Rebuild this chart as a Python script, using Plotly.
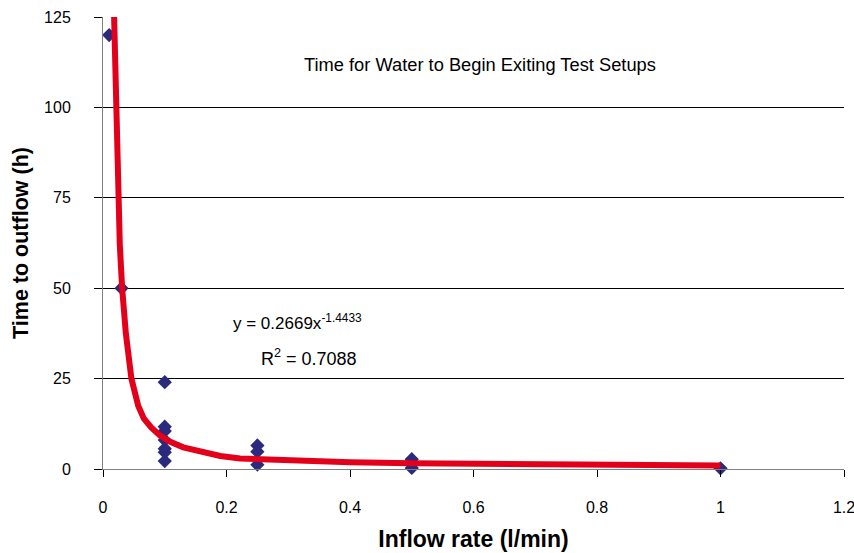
import plotly.graph_objects as go

# Measured data points (inflow rate l/min, time to outflow h)
inflow = [0.01, 0.03, 0.1, 0.1, 0.1, 0.1, 0.1, 0.1, 0.1,
          0.25, 0.25, 0.25, 0.5, 0.5, 1.0]
outflow_time = [120, 50, 24, 11.7, 10.5, 8.0, 5.6, 4.6, 2.2,
                6.5, 4.8, 1.2, 2.7, 0.3, 0.2]

# Power trendline as drawn in the picture
trend_x = [0.018, 0.021, 0.0235, 0.0272, 0.031, 0.037, 0.046, 0.057, 0.066,
           0.078, 0.092, 0.108, 0.13, 0.157, 0.19, 0.222, 0.3, 0.4, 0.5, 0.7, 1.0]
trend_y = [125, 103, 86, 62, 50, 37.5, 25, 17.5, 14, 11.5, 9.3, 7.6, 6.0,
           4.8, 3.6, 2.9, 2.3, 1.9, 1.6, 1.2, 1.0]

x_ticks = [0, 0.2, 0.4, 0.6, 0.8, 1, 1.2]
x_tick_labels = ["0", "0.2", "0.4", "0.6", "0.8", "1", "1.2"]
y_ticks = [0, 25, 50, 75, 100, 125]

chart_title = "Time for Water to Begin Exiting Test Setups"
equation = "y = 0.2669x<sup>-1.4433</sup>"
r_squared = "R<sup>2</sup> = 0.7088"

FONT = "Liberation Sans, Arial, sans-serif"

fig = go.Figure()
fig.add_trace(go.Scatter(
    x=inflow, y=outflow_time, mode="markers",
    marker=dict(symbol="diamond", size=11, color="#2B2A7C", line=dict(width=0)),
    showlegend=False, cliponaxis=False,
))
fig.add_trace(go.Scatter(
    x=trend_x, y=trend_y, mode="lines",
    line=dict(color="#E2001A", width=6),
    showlegend=False,
))

fig.add_annotation(x=0.61, y=111.9, xref="x", yref="y", text=chart_title,
                   showarrow=False, font=dict(family=FONT, size=18.3, color="#000"))
fig.add_annotation(x=0.207, y=40.7, xref="x", yref="y", text=equation, xanchor="left",
                   showarrow=False, font=dict(family=FONT, size=17, color="#000"))
fig.add_annotation(x=0.252, y=30.7, xref="x", yref="y", text=r_squared, xanchor="left",
                   showarrow=False, font=dict(family=FONT, size=18, color="#000"))

fig.update_layout(
    width=854, height=553,
    margin=dict(l=103, r=10, t=17, b=84),
    paper_bgcolor="white", plot_bgcolor="white",
    font=dict(family=FONT, size=16, color="#000"),
    xaxis=dict(
        range=[0, 1.2], tickvals=x_ticks, ticktext=x_tick_labels,
        showgrid=False, zeroline=False, automargin=False, ticklabeloverflow="allow",
        showline=True, linecolor="#808080", linewidth=1,
        ticks="outside", ticklen=7, tickcolor="#000", ticklabelstandoff=17,
        tickfont=dict(family=FONT, size=16, color="#000"),
        title=dict(text="<b>Inflow rate (l/min)</b>", standoff=15,
                   font=dict(family=FONT, size=23, color="#000")),
    ),
    yaxis=dict(
        range=[0, 125], tickvals=y_ticks, automargin=False, ticklabeloverflow="allow",
        showgrid=True, gridcolor="#000", gridwidth=1, zeroline=False,
        showline=True, linecolor="#808080", linewidth=1,
        ticks="outside", ticklen=8, tickcolor="#000", ticklabelstandoff=20,
        tickfont=dict(family=FONT, size=16, color="#000"),
        title=dict(text="<b>Time to outflow (h)</b>", standoff=9,
                   font=dict(family=FONT, size=21.5, color="#000")),
    ),
)

fig.write_html("out.html")
